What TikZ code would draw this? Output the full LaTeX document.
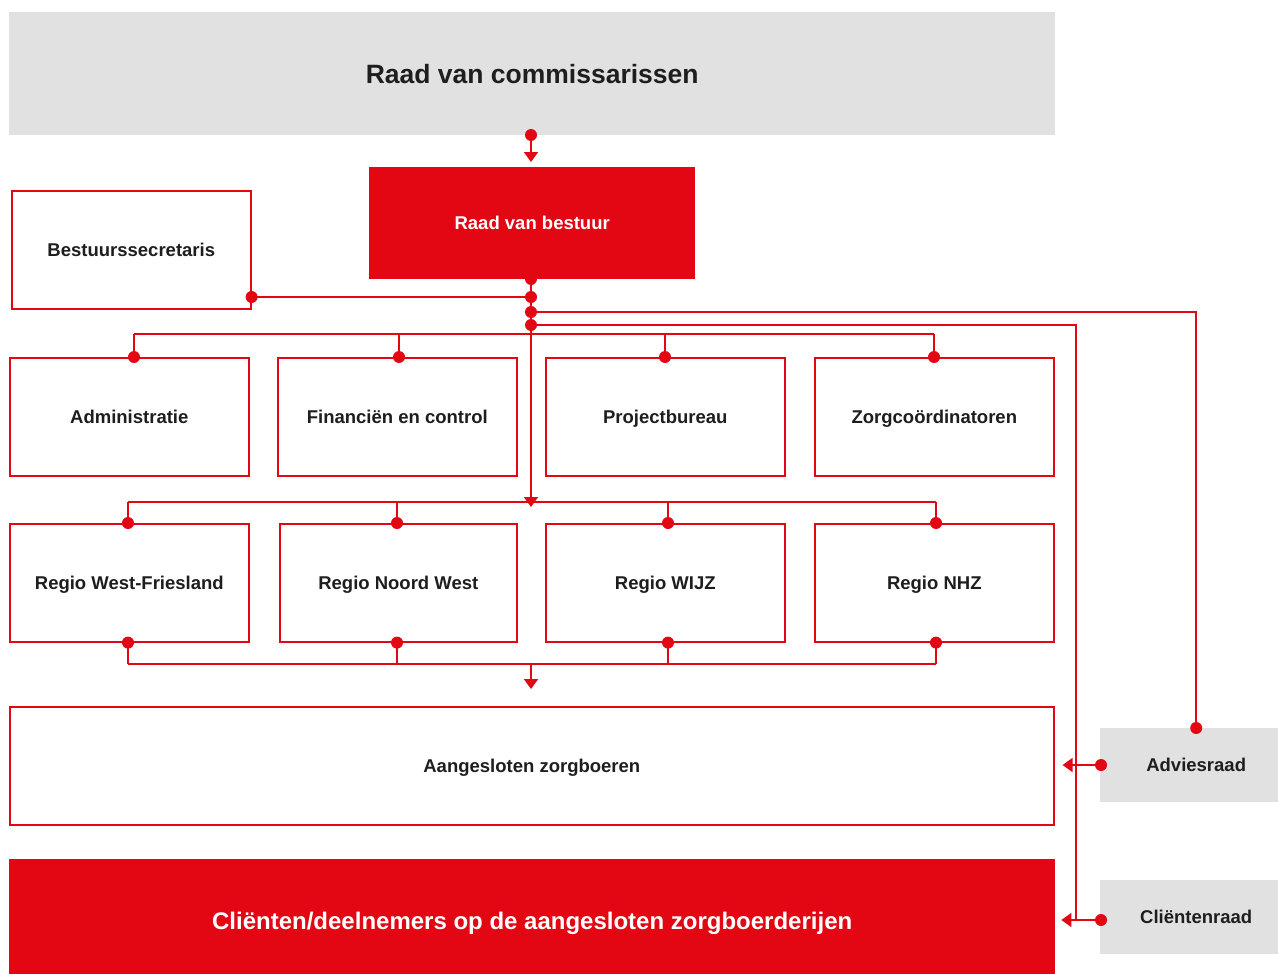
\documentclass[tikz,border=0pt]{standalone}
\usepackage{fontspec}
\setmainfont{Liberation Sans}
\usetikzlibrary{arrows.meta,calc}
\definecolor{rred}{HTML}{E30613}
\definecolor{rgray}{HTML}{E1E1E1}
\definecolor{txt}{HTML}{1E1E1E}
\begin{document}
\begin{tikzpicture}[x=1pt,y=-1pt,
  base/.style={anchor=north west, inner sep=0pt, font=\bfseries\fontsize{18.5}{22}\selectfont, text=txt, align=center, text height=13.3pt, text depth=0pt},
  obox/.style={base, draw=rred, line width=1.6pt, fill=white},
  gbox/.style={base, fill=rgray},
  rbox/.style={base, fill=rred, text=white},
  wh/.style 2 args={minimum width=#1pt, minimum height=#2pt},
  conn/.style={draw=rred, line width=1.8pt},
  arr/.style={conn, -{Triangle[width=14pt,length=10pt]}},
  jdot/.style={fill=rred},
]
\useasboundingbox (0,0) rectangle (1278,974);

% boxes
\node[gbox, wh={1046}{123}, font=\bfseries\fontsize{26.5}{30}\selectfont, text height=19pt] (rvc) at (9,12) {Raad van commissarissen};
\node[rbox, wh={326}{112}] (rvb) at (369,167) {Raad van bestuur};
\node[obox, wh={239}{118}] (bs) at (11,190) {Bestuurssecretaris};
\node[obox, wh={239}{118}] (adm) at (9,357) {Administratie};
\node[obox, wh={239}{118}] (fin) at (277,357) {Financiën en control};
\node[obox, wh={239}{118}] (pb) at (545,357) {Projectbureau};
\node[obox, wh={239}{118}] (zc) at (814,357) {Zorgcoördinatoren};
\node[obox, wh={239}{118}] (wf) at (9,523) {Regio West-Friesland};
\node[obox, wh={237}{118}] (nw) at (279,523) {Regio Noord West};
\node[obox, wh={239}{118}] (wijz) at (545,523) {Regio WIJZ};
\node[obox, wh={239}{118}] (nhz) at (814,523) {Regio NHZ};
\node[obox, wh={1044}{118}] (azb) at (9,706) {Aangesloten zorgboeren};
\node[rbox, wh={1046}{124}, font=\bfseries\fontsize{24}{28}\selectfont, text height=17.5pt] (cli) at (9,859) {Cliënten/deelnemers op de aangesloten zorgboerderijen};
\node[gbox, wh={192}{74}] (adv) at (1100,728) {Adviesraad};
\node[gbox, wh={192}{74}] (cr) at (1100,880) {Cliëntenraad};

% junction coordinates
\coordinate (top) at (531,135);
\coordinate (rb) at (531,279);
\coordinate (j1) at (531,297);
\coordinate (j2) at (531,312);
\coordinate (j3) at (531,325);
\coordinate (spinetip) at (531,507);
\coordinate (advin) at (1101,765);
\coordinate (crin) at (1101,920);
\coordinate (vr) at (1076,920);
\coordinate (b1L) at (134,334);
\coordinate (b1R) at (934,334);
\coordinate (b2L) at (128,502);
\coordinate (b2R) at (936,502);
\coordinate (b3L) at (128,664);
\coordinate (b3R) at (936,664);
\coordinate (b3m) at (531,664);
\coordinate (b3tip) at (531,689);

% connectors
\draw[arr, shorten >=5pt] (top) -- (top |- rvb.north);
\draw[arr] (rb) -- (spinetip);
\draw[conn] (bs.east |- j1) -- (j1);
\draw[conn] (j2) -| (adv.north);
\draw[conn] (j3) -| (vr);
\draw[arr, shorten >=8pt] (advin) -- (azb.east |- advin);
\draw[arr, shorten >=6pt] (crin) -- (cli.east |- crin);
\draw[conn] (b1L) -- (b1R);
\draw[conn] (b2L) -- (b2R);
\draw[conn] (b3L) -- (b3R);
\draw[arr] (b3m) -- (b3tip);
\foreach \n/\x in {adm/134, fin/399, pb/665, zc/934} {
  \draw[conn] (\x,334) -- (\n.north -| \x,0);
  \fill[jdot] (\n.north -| \x,0) circle[radius=6pt];
}
\foreach \n/\x in {wf/128, nw/397, wijz/668, nhz/936} {
  \draw[conn] (\x,502) -- (\n.north -| \x,0);
  \draw[conn] (\n.south -| \x,0) -- (\x,664);
  \fill[jdot] (\n.north -| \x,0) circle[radius=6pt];
  \fill[jdot] (\n.south -| \x,0) circle[radius=6pt];
}

% dots
\foreach \c in {top, rb, j1, j2, j3, advin, crin} {
  \fill[jdot] (\c) circle[radius=6pt];
}
\fill[jdot] (adv.north) circle[radius=6pt];
\fill[jdot] (bs.east |- j1) circle[radius=6pt];
\end{tikzpicture}
\end{document}
